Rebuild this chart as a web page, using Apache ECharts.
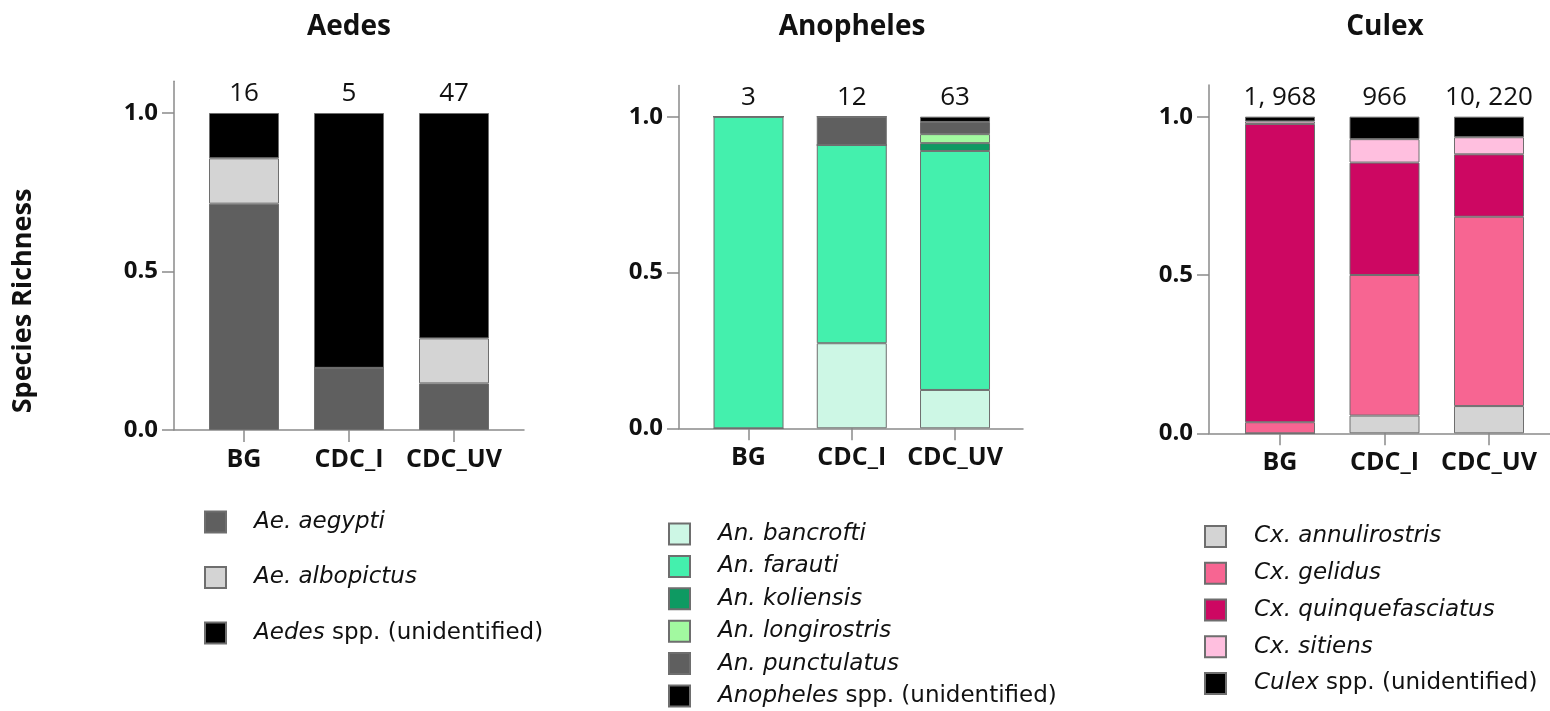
<!DOCTYPE html>
<html><head><meta charset="utf-8">
<script src="https://cdn.jsdelivr.net/npm/echarts@6/dist/echarts.min.js"></script>
<style>html,body{margin:0;padding:0;background:#fff}#c{width:1550px;height:711px}</style>
</head><body><div id="c"></div>
<script>
// ---------- DATA ----------
const categories = ['BG', 'CDC_I', 'CDC_UV'];
const panelTitles = ['Aedes', 'Anopheles', 'Culex'];
const yTickValues = [0, 0.5, 1.0];

const aedesCounts = ['16', '5', '47'];
const anophelesCounts = ['3', '12', '63'];
const culexCounts = ['1, 968', '966', '10, 220'];

const aedesSpecies = ['Ae. aegypti', 'Ae. albopictus', 'Aedes spp. (unidentified)'];
const aeAegypti = [0.714, 0.196, 0.147];
const aeAlbopictus = [0.143, 0, 0.142];
const aeUnidentified = [0.143, 0.804, 0.711];

const anophelesSpecies = ['An. bancrofti', 'An. farauti', 'An. koliensis', 'An. longirostris', 'An. punctulatus', 'Anopheles spp. (unidentified)'];
const anBancrofti = [0, 0.273, 0.123];
const anFarauti = [1.0, 0.636, 0.767];
const anKoliensis = [0, 0, 0.025];
const anLongirostris = [0, 0, 0.029];
const anPunctulatus = [0, 0.091, 0.039];
const anUnidentified = [0, 0, 0.017];

const culexSpecies = ['Cx. annulirostris', 'Cx. gelidus', 'Cx. quinquefasciatus', 'Cx. sitiens', 'Culex spp. (unidentified)'];
const cxAnnulirostris = [0, 0.056, 0.086];
const cxGelidus = [0.035, 0.444, 0.598];
const cxQuinquefasciatus = [0.942, 0.355, 0.197];
const cxSitiens = [0.008, 0.074, 0.054];
const cxUnidentified = [0.015, 0.071, 0.065];

// ---------- STYLE ----------
const FONT = '"Open Sans", "Noto Sans", sans-serif';
const LFONT = '"DejaVu Sans", sans-serif';
const aedesColors = ['#5f5f5f', '#d4d4d4', '#000000'];
const anophelesColors = ['#cdf7e5', '#44f0ad', '#0e9a62', '#a2f9a0', '#5f5f5f', '#000000'];
const culexColors = ['#d4d4d4', '#f76592', '#cd0762', '#ffbfdf', '#000000'];

const panels = [
  { title: panelTitles[0], counts: aedesCounts, species: aedesSpecies,
    values: [aeAegypti, aeAlbopictus, aeUnidentified], colors: aedesColors,
    frame: { left: 174, top: 81.3, width: 350, height: 348.7 },
    bars: { left: 191.5, width: 315 }, titleX: 349,
    legend: { left: 204, top: 510.5, gap: 32.5 } },
  { title: panelTitles[1], counts: anophelesCounts, species: anophelesSpecies,
    values: [anBancrofti, anFarauti, anKoliensis, anLongirostris, anPunctulatus, anUnidentified], colors: anophelesColors,
    frame: { left: 679, top: 85.5, width: 344, height: 342.8 },
    bars: { left: 696.9, width: 309.75 }, titleX: 852,
    legend: { left: 668, top: 522.5, gap: 9.4 } },
  { title: panelTitles[2], counts: culexCounts, species: culexSpecies,
    values: [cxAnnulirostris, cxGelidus, cxQuinquefasciatus, cxSitiens, cxUnidentified], colors: culexColors,
    frame: { left: 1209, top: 85, width: 350, height: 348.3 },
    bars: { left: 1227.75, width: 313.5 }, titleX: 1385,
    legend: { left: 1204, top: 525, gap: 13.75 } }
];

const axisColor = '#8a8a8a';
const grids = [], xAxes = [], yAxes = [], series = [], legends = [];

function legendFmt(name) {
  const k = name.indexOf(' spp.');
  if (k >= 0) return '{i|' + name.slice(0, k) + '}{n|' + name.slice(k) + '}';
  return '{i|' + name + '}';
}

panels.forEach((p, i) => {
  const fi = 2 * i, bi = 2 * i + 1;
  grids.push({ left: p.frame.left, top: p.frame.top, width: p.frame.width, height: p.frame.height });
  grids.push({ left: p.bars.left, top: p.frame.top, width: p.bars.width, height: p.frame.height });

  xAxes.push({
    type: 'value', gridIndex: fi, min: 0, max: 1,
    splitLine: { show: false }, axisTick: { show: false }, axisLabel: { show: false },
    axisLine: { show: true, onZero: false, lineStyle: { color: axisColor, width: 1.5 } }
  });
  yAxes.push({
    type: 'value', gridIndex: fi, min: 0, max: 1.1,
    splitLine: { show: false },
    axisLine: { show: true, onZero: false, lineStyle: { color: axisColor, width: 1.5 } },
    axisTick: { show: true, customValues: yTickValues, length: 12, lineStyle: { color: axisColor, width: 1.5 } },
    axisLabel: { customValues: yTickValues, formatter: v => Number(v).toFixed(1),
      margin: 16, fontSize: 24, fontWeight: 'bold', color: '#111', fontFamily: FONT }
  });
  xAxes.push({
    type: 'category', gridIndex: bi, data: categories, boundaryGap: true,
    axisLine: { show: false, onZero: false },
    axisTick: { show: true, alignWithLabel: true, interval: 0, length: 12, lineStyle: { color: axisColor, width: 1.5 } },
    axisLabel: { interval: 0, hideOverlap: false, margin: 17, fontSize: 25, fontWeight: 'bold', color: '#111', fontFamily: FONT },
    splitLine: { show: false }
  });
  yAxes.push({ type: 'value', gridIndex: bi, min: 0, max: 1.1, show: false });

  p.species.forEach((name, s) => {
    series.push({
      type: 'bar', name: name, xAxisIndex: bi, yAxisIndex: bi, stack: 'panel' + i,
      barWidth: 70, silent: true,
      itemStyle: { color: p.colors[s], borderColor: '#6e6e6e', borderWidth: 1 },
      data: p.values[s]
    });
  });
  const totals = categories.map((c, j) => p.values.reduce((a, arr) => a + arr[j], 0));
  series.push({
    type: 'scatter', xAxisIndex: bi, yAxisIndex: bi, symbolSize: 0, silent: true,
    itemStyle: { opacity: 1 },
    data: totals,
    label: { show: true, position: 'top', distance: 6,
      formatter: prm => p.counts[prm.dataIndex],
      fontSize: 26, color: '#111', fontFamily: FONT }
  });
  legends.push({
    data: p.species, orient: 'vertical', left: p.legend.left, top: p.legend.top, height: 260,
    itemWidth: 21, itemHeight: 21, itemGap: p.legend.gap, icon: 'rect',
    selectedMode: false, padding: 0,
    formatter: legendFmt,
    textStyle: {
      padding: [0, 0, 0, 23], fontSize: 23, lineHeight: 21, color: '#111', fontFamily: LFONT,
      rich: {
        i: { fontStyle: 'italic', fontSize: 23, lineHeight: 21, color: '#111', fontFamily: LFONT },
        n: { fontStyle: 'normal', fontSize: 23, lineHeight: 21, color: '#111', fontFamily: LFONT }
      }
    }
  });
});

const graphics = panels.map(p => ({
  type: 'text', x: p.titleX, y: 27, silent: true,
  style: { text: p.title, fontSize: 28, fontWeight: 'bold', fontFamily: FONT,
    fill: '#111', textAlign: 'center', textVerticalAlign: 'middle' }
}));
graphics.push({
  type: 'text', x: 23, y: 301, rotation: Math.PI / 2, silent: true,
  style: { text: 'Species Richness', fontSize: 27, fontWeight: 'bold', fontFamily: FONT,
    fill: '#111', textAlign: 'center', textVerticalAlign: 'middle' }
});

const chart = echarts.init(document.getElementById('c'), null, { renderer: 'canvas' });
chart.setOption({
  animation: false,
  backgroundColor: '#fff',
  grid: grids, xAxis: xAxes, yAxis: yAxes,
  legend: legends, series: series, graphic: graphics
});
</script>
</body></html>
